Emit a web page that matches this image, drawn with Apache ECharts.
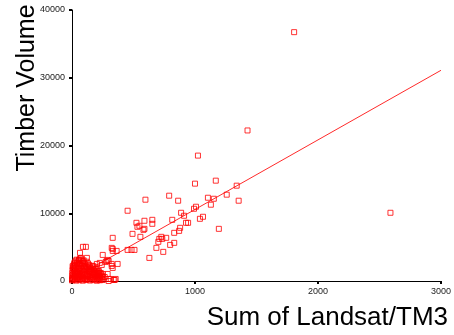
<!DOCTYPE html>
<html>
<head>
<meta charset="utf-8">
<script src="https://cdn.jsdelivr.net/npm/echarts@6/dist/echarts.min.js"></script>
<style>
  html, body { margin: 0; padding: 0; background: #fff; }
  #chart { width: 454px; height: 335px; }
</style>
</head>
<body>
<div id="chart"></div>
<script>
// 坐标轴刻度
const xTicks = [0, 1000, 2000, 3000];
const yTicks = [0, 10000, 20000, 30000, 40000];

// 原点附近密集的点 [Sum of Landsat/TM3, Timber Volume]
const densePlots = [
  [38, 3150], [66, 3300], [95, 3050],
  [30, 3000], [58, 3080], [88, 2950],
  [22, 2750], [52, 2900], [84, 2700], [118, 2850],
  [18, 2600], [40, 2650], [62, 2550], [100, 2640], [130, 2600],
  [14, 2350], [44, 2450], [76, 2300], [106, 2500], [138, 2380], [165, 2250],
  [5, 2180], [28, 2250], [55, 2150], [86, 2230], [116, 2180], [145, 2120], [172, 2200],
  [8, 1950], [34, 2050], [63, 1900], [96, 2080], [126, 1980], [152, 1880], [184, 2020],
  [16, 1780], [46, 1820], [78, 1750], [108, 1830], [138, 1760], [166, 1800], [194, 1760],
  [4, 1600], [28, 1520], [57, 1680], [88, 1560], [117, 1640], [146, 1500], [176, 1600], [204, 1540],
  [14, 1420], [36, 1360], [66, 1440], [98, 1380], [128, 1420], [158, 1350], [186, 1420], [214, 1380],
  [3, 1180], [24, 1250], [50, 1120], [80, 1230], [110, 1150], [140, 1260], [168, 1120], [198, 1200], [226, 1150],
  [10, 1020], [38, 960], [62, 1040], [92, 980], [122, 1010], [150, 960], [180, 1030], [208, 980], [234, 1010],
  [2, 820], [18, 760], [46, 850], [73, 780], [102, 820], [132, 740], [160, 860], [190, 790], [218, 830], [244, 760],
  [8, 620], [28, 580], [60, 640], [86, 570], [116, 630], [144, 590], [170, 620], [200, 570], [226, 630], [250, 580],
  [1, 420], [14, 360], [40, 450], [68, 380], [96, 430], [124, 350], [154, 440], [182, 380], [212, 420], [238, 360],
  [4, 240], [24, 260], [50, 230], [78, 280], [106, 230], [134, 260], [162, 230], [192, 270], [218, 240], [246, 260],
  [0, 80], [10, 150], [35, 60], [60, 120], [88, 50], [116, 140], [146, 70], [174, 130], [202, 40], [228, 110],
  [20, 1850], [45, 1400], [70, 2600], [30, 1000], [55, 600], [85, 250], [12, 2200]
];

// 其余散点
const scatterPlots = [
  [1806, 36730], [2589, 10070], [1427, 22220], [1024, 18510], [1169, 14810],
  [1000, 14370], [1339, 14070], [1258, 12740], [1355, 11850], [1105, 12290],
  [1153, 12140], [1129, 11260], [1008, 10960], [992, 10660], [887, 10070],
  [911, 9630], [1065, 9480], [1040, 9180], [944, 8590], [927, 8590],
  [1194, 7700], [815, 9030], [790, 12590], [863, 11850], [597, 12000],
  [452, 10370], [653, 9030], [653, 8440], [589, 8890], [589, 7700],
  [548, 8150], [524, 8590], [532, 8000], [492, 6960], [581, 7550],
  [879, 7850], [871, 7400], [831, 7110], [556, 6520], [766, 6370],
  [726, 6520], [710, 6220], [734, 6220], [702, 5780], [831, 5630],
  [798, 5330], [686, 4890], [742, 4300], [629, 3410], [331, 6370],
  [323, 4890], [331, 4440], [363, 4440], [250, 3850], [452, 4590],
  [484, 4590], [508, 4590], [290, 3110], [274, 2810], [323, 2520],
  [371, 2520], [331, 1930], [298, 300], [339, 150], [266, 590],
  [89, 5040], [113, 5040], [65, 4150], [73, 3410], [56, 3110],
  [331, 4740], [298, 2960], [242, 2370], [218, 1190], [250, 1040],
  [290, 1040], [315, 300], [355, 300], [298, 0], [121, 3410],
  [202, 2520], [226, 2670], [282, 2960], [323, 2220], [347, 150],
  [218, 1480], [177, 1190], [234, 1190], [250, 150], [218, 150]
];

// 拟合直线两端
const fitLine = [[0, 290], [3000, 31100]];

const chart = echarts.init(document.getElementById('chart'));

const axisCommon = {
  axisLine: { show: true, lineStyle: { color: '#000', width: 1 } },
  axisTick: { show: true, length: 3, lineStyle: { color: '#000', width: 2 } },
  axisLabel: {
    color: '#222',
    fontSize: 9,
    fontFamily: 'Liberation Sans',
    formatter: (v) => String(v) // 不要千分位逗号
  },
  splitLine: { show: false }
};

const pointStyle = {
  color: 'rgba(0,0,0,0)',
  borderColor: '#ff0000',
  borderWidth: 1
};

chart.setOption({
  animation: false,
  backgroundColor: '#fff',
  grid: { left: 72, right: 10, top: 10, bottom: 54 },
  xAxis: {
    ...axisCommon,
    type: 'value',
    min: xTicks[0],
    max: xTicks[xTicks.length - 1],
    interval: 1000,
    axisLabel: { ...axisCommon.axisLabel, margin: 6 }
  },
  yAxis: {
    ...axisCommon,
    type: 'value',
    min: yTicks[0],
    max: yTicks[yTicks.length - 1],
    interval: 10000,
    axisLabel: { ...axisCommon.axisLabel, margin: 7 }
  },
  graphic: [
    {
      type: 'text',
      x: 27,
      y: 88,
      rotation: Math.PI / 2,
      style: {
        text: 'Timber Volume',
        font: '25px "Liberation Sans"',
        fill: '#000',
        textAlign: 'center',
        textVerticalAlign: 'middle'
      }
    },
    {
      type: 'text',
      x: 448,
      y: 318,
      style: {
        text: 'Sum of Landsat/TM3',
        font: '26px "Liberation Sans"',
        fill: '#000',
        textAlign: 'right',
        textVerticalAlign: 'middle'
      }
    }
  ],
  series: [
    {
      type: 'line',
      data: fitLine,
      symbol: 'none',
      z: 1,
      lineStyle: { color: '#ff2a2a', width: 1 }
    },
    {
      type: 'scatter',
      data: densePlots,
      symbol: 'rect',
      symbolSize: 5,
      z: 2,
      itemStyle: pointStyle
    },
    {
      type: 'scatter',
      data: scatterPlots,
      symbol: 'rect',
      symbolSize: 5,
      z: 2,
      itemStyle: pointStyle
    }
  ]
});
</script>
</body>
</html>
